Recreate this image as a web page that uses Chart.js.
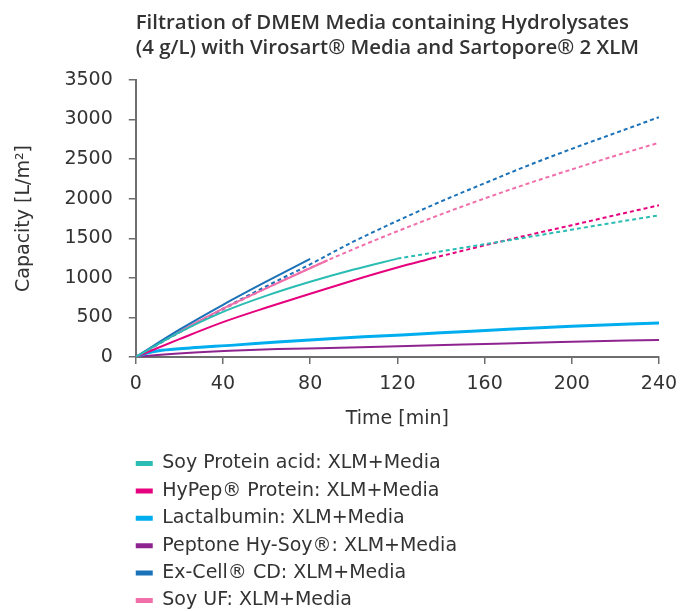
<!DOCTYPE html>
<html lang="en">
<head>
    <meta charset="UTF-8">
    <title>Filtration of DMEM Media containing Hydrolysates</title>
    <script src="https://cdn.jsdelivr.net/npm/chart.js"></script>
    <style>
        html, body { margin: 0; padding: 0; background: #fff; }
        #wrap { width: 693px; height: 611px; }
    </style>
</head>
<body>
    <div id="wrap"><canvas id="filtrationChart"></canvas></div>
    <script>
        // Measured curves (solid) and fitted extrapolations (dashed), time in min, capacity in L/m2
        const soyAcidTime = [0, 20, 40, 60, 80, 100, 120];
        const soyAcidCap = [0, 310, 570, 775, 950, 1105, 1243];
        const soyAcidFitTime = [120, 150, 180, 210, 240];
        const soyAcidFitCap = [1243, 1380, 1515, 1655, 1790];

        const hypepTime = [0, 20, 40, 60, 80, 100, 120, 136];
        const hypepCap = [0, 225, 440, 625, 800, 970, 1130, 1248];
        const hypepFitTime = [136, 160, 180, 200, 220, 240];
        const hypepFitCap = [1248, 1410, 1540, 1665, 1792, 1917];

        const lactTime = [0, 4, 12, 25, 45, 65, 89, 112, 140, 173, 200, 240];
        const lactCap = [0, 40, 85, 115, 150, 190, 232, 265, 305, 355, 390, 430];

        const peptoneTime = [0, 10, 25, 43, 65, 89, 112, 150, 195, 240];
        const peptoneCap = [0, 25, 55, 80, 100, 114, 131, 158, 190, 215];

        const excellTime = [0, 20, 40, 60, 80];
        const excellCap = [0, 345, 660, 955, 1240];
        const excellFitTime = [0, 20, 40, 60, 80, 100, 120, 140, 160, 180, 200, 220, 240];
        const excellFitCap = [0, 312, 610, 896, 1171, 1460, 1720, 1965, 2195, 2420, 2630, 2830, 3030];

        const soyUfTime = [0, 20, 40, 60, 88];
        const soyUfCap = [0, 320, 610, 870, 1222];
        const soyUfFitTime = [0, 20, 40, 60, 80, 100, 120, 140, 160, 180, 200, 220, 240];
        const soyUfFitCap = [0, 310, 600, 871, 1125, 1364, 1589, 1802, 2003, 2192, 2370, 2543, 2707];

        const xTicks = [0, 40, 80, 120, 160, 200, 240];
        const yTicks = [0, 500, 1000, 1500, 2000, 2500, 3000, 3500];

        const FONT = '"DejaVu Sans", sans-serif';
        const TITLE_FONT = '"Open Sans", "DejaVu Sans", sans-serif';
        const TEXT = '#333333';
        const AXIS = '#6e6e6e';

        function pts(t, v) {
            return t.map((x, i) => ({ x: x, y: v[i] }));
        }

        function solid(label, t, v, color, width) {
            return {
                label: label,
                data: pts(t, v),
                borderColor: color,
                backgroundColor: color,
                borderWidth: width || 2,
                pointRadius: 0,
                cubicInterpolationMode: 'monotone'
            };
        }

        function dashed(label, t, v, color) {
            return {
                label: label,
                fit: true,
                data: pts(t, v),
                borderColor: color,
                backgroundColor: color,
                borderWidth: 2,
                borderDash: [4, 3],
                pointRadius: 0,
                cubicInterpolationMode: 'monotone'
            };
        }

        const datasets = [
            solid('Soy Protein acid: XLM+Media', soyAcidTime, soyAcidCap, '#2bbcb3'),
            solid('HyPep® Protein: XLM+Media', hypepTime, hypepCap, '#e6007e'),
            solid('Lactalbumin: XLM+Media', lactTime, lactCap, '#00aeef', 3),
            solid('Peptone Hy-Soy®: XLM+Media', peptoneTime, peptoneCap, '#8e248f'),
            solid('Ex-Cell® CD: XLM+Media', excellTime, excellCap, '#1b72b8'),
            solid('Soy UF: XLM+Media', soyUfTime, soyUfCap, '#f06eaa'),
            dashed('Soy Protein acid fit', soyAcidFitTime, soyAcidFitCap, '#2bbcb3'),
            dashed('HyPep Protein fit', hypepFitTime, hypepFitCap, '#e6007e'),
            dashed('Ex-Cell CD fit', excellFitTime, excellFitCap, '#1b72b8'),
            dashed('Soy UF fit', soyUfFitTime, soyUfFitCap, '#f06eaa')
        ];

        // line the stacked legend up under the y axis, like the original
        const legendAlign = {
            id: 'legendAlign',
            afterLayout(chart) {
                const pad = chart.options.plugins.legend.labels.padding;
                chart.legend.left = chart.chartArea.left - pad;
                chart.legend.top += 9;
            }
        };

        const ctx = document.getElementById('filtrationChart').getContext('2d');
        new Chart(ctx, {
            type: 'line',
            data: { datasets: datasets },
            plugins: [legendAlign],
            options: {
                responsive: true,
                maintainAspectRatio: false,
                animation: false,
                layout: { padding: { left: 0, right: 34, top: 0, bottom: 0 } },
                scales: {
                    x: {
                        type: 'linear',
                        min: 0,
                        max: 240,
                        afterBuildTicks: (axis) => { axis.ticks = xTicks.map(v => ({ value: v })); },
                        grid: { drawOnChartArea: false, drawTicks: true, tickLength: 7, color: AXIS, lineWidth: 1.5 },
                        border: { display: true, color: AXIS, width: 2 },
                        ticks: { color: TEXT, font: { family: FONT, size: 19 }, padding: 9, maxRotation: 0 },
                        title: {
                            display: true,
                            text: 'Time [min]',
                            color: TEXT,
                            font: { family: FONT, size: 19 },
                            padding: { top: 3, bottom: 6 }
                        }
                    },
                    y: {
                        min: 0,
                        max: 3500,
                        afterBuildTicks: (axis) => { axis.ticks = yTicks.map(v => ({ value: v })); },
                        grid: { drawOnChartArea: false, drawTicks: true, tickLength: 7, color: AXIS, lineWidth: 1.5 },
                        border: { display: true, color: AXIS, width: 2 },
                        ticks: {
                            color: TEXT,
                            font: { family: FONT, size: 19 },
                            padding: 16,
                            callback: (v) => String(v)
                        },
                        title: {
                            display: true,
                            text: 'Capacity [L/m²]',
                            color: TEXT,
                            font: { family: FONT, size: 19 },
                            padding: { top: 12.6, bottom: 13 }
                        }
                    }
                },
                plugins: {
                    title: {
                        display: true,
                        fullSize: false,
                        align: 'start',
                        text: ['Filtration of DMEM Media containing Hydrolysates', '(4 g/L) with Virosart® Media and Sartopore® 2 XLM'],
                        color: TEXT,
                        font: { family: TITLE_FONT, size: 20.4, weight: '600', lineHeight: 1.2 },
                        padding: { top: 11, bottom: 20 }
                    },
                    legend: {
                        display: true,
                        position: 'bottom',
                        fullSize: false,
                        align: 'start',
                        labels: {
                            color: TEXT,
                            font: { family: FONT, size: 19 },
                            boxWidth: 17,
                            boxHeight: 5,
                            padding: 8.4,
                            filter: (item, data) => !data.datasets[item.datasetIndex].fit,
                            generateLabels: (chart) => {
                                const items = Chart.defaults.plugins.legend.labels.generateLabels(chart);
                                items.forEach(it => {
                                    it.lineWidth = 0;
                                    it.lineDash = [];
                                    // trailing em spaces keep one entry per row
                                    it.text = it.text + '\u2003'.repeat(12);
                                });
                                return items;
                            }
                        }
                    },
                    tooltip: { enabled: false }
                }
            }
        });
    </script>
</body>
</html>
